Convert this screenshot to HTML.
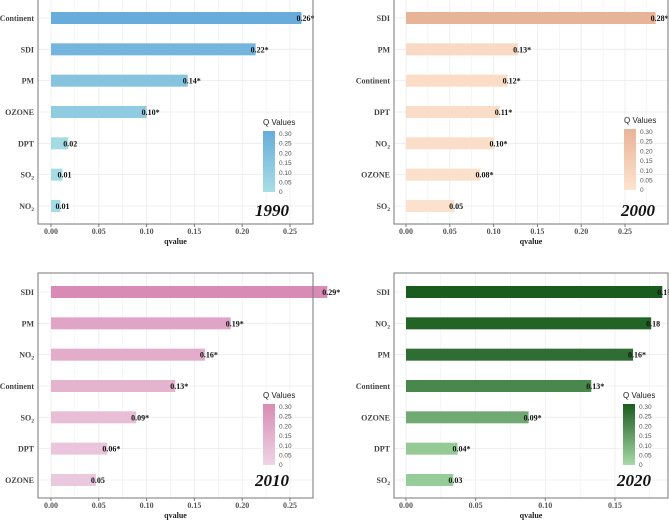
<!DOCTYPE html>
<html><head><meta charset="utf-8"><style>
html,body{margin:0;padding:0;background:#fff}
svg{display:block;font-family:"Liberation Serif",serif}
</style></head><body>
<svg id="c" width="669" height="520" viewBox="0 0 669 520" xmlns="http://www.w3.org/2000/svg"></svg>
<script>
// ----- data -----
const cats1990 = ["Continent","SDI","PM","OZONE","DPT","SO2","NO2"];
const vals1990 = [0.262,0.214,0.143,0.100,0.018,0.012,0.010];
const labs1990 = ["0.26*","0.22*","0.14*","0.10*","0.02","0.01","0.01"];
const cats2000 = ["SDI","PM","Continent","DPT","NO2","OZONE","SO2"];
const vals2000 = [0.285,0.128,0.116,0.107,0.101,0.085,0.055];
const labs2000 = ["0.28*","0.13*","0.12*","0.11*","0.10*","0.08*","0.05"];
const cats2010 = ["SDI","PM","NO2","Continent","SO2","DPT","OZONE"];
const vals2010 = [0.289,0.188,0.161,0.130,0.089,0.059,0.047];
const labs2010 = ["0.29*","0.19*","0.16*","0.13*","0.09*","0.06*","0.05"];
const cats2020 = ["SDI","NO2","PM","Continent","OZONE","DPT","SO2"];
const vals2020 = [0.184,0.176,0.163,0.133,0.088,0.037,0.034];
const labs2020 = ["0.19*","0.18","0.16*","0.13*","0.09*","0.04*","0.03"];
const ticks25 = [0,0.05,0.10,0.15,0.20,0.25];
const ticks15 = [0,0.05,0.10,0.15];
const legendTicks = [0.30,0.25,0.20,0.15,0.10,0.05,0];

const NS="http://www.w3.org/2000/svg";
const svg=document.getElementById('c');
function mk(tag,attrs,parent){const e=document.createElementNS(NS,tag);for(const k in attrs)e.setAttribute(k,attrs[k]);(parent||svg).appendChild(e);return e;}
function lerp(a,b,t){return a.map((v,i)=>Math.round(v+(b[i]-v)*t));}
function rgb(c){return `rgb(${c[0]},${c[1]},${c[2]})`;}
function catText(g,name,x,y,anchor,size,weight){
  const t=mk('text',{x:x,y:y,'text-anchor':anchor,'font-size':size,'font-weight':weight,fill:'#444'},g);
  const m=name.match(/^(NO|SO)2$/);
  if(m){t.textContent=m[1];const s=mk('tspan',{'font-size':size*0.7,dy:2},t);s.textContent='2';}
  else t.textContent=name;
  return t;
}
function panel(p){
  const g=mk('g',{});
  
  
  const L=p.left,T=p.top,R=p.right,B=p.top+225;
  const sx=v=>p.x0+v*p.scale;
  const step=31.33, y0=T+19;
  const sy=i=>y0+i*step;
  const vmax=Math.max(...p.vals);
  for(let v=0;sx(v)<R;v+=0.025){
    const gl=mk('line',{x1:sx(v),x2:sx(v),y1:T,y2:B,stroke:'#ececec','stroke-width':(Math.round(v/0.025)%2===0)?0.8:0.5},g);
    
  }
  p.cats.forEach((c,i)=>{
    const gl=mk('line',{x1:L,x2:R,y1:sy(i),y2:sy(i),stroke:'#ececec','stroke-width':0.8},g);
    
  });
  p.cats.forEach((c,i)=>{
    const v=p.vals[i];
    const t0=Math.pow(v/vmax,p.gamma);
    const col=rgb(lerp(p.c0,p.c1,t0));
    const r=mk('rect',{x:sx(0),y:sy(i)-6,width:sx(v)-sx(0),height:12,fill:col},g);
    
    
    const t=mk('text',{x:sx(v)-5,y:sy(i)+3,'font-size':8,'font-weight':'bold',fill:'#111'},g);
    t.textContent=p.labs[i];
    
    
    const ct=catText(g,c,L-4,sy(i)+3,'end',8,'bold');
    
    
  });
  const fr=mk('rect',{x:L,y:T,width:R-L,height:B-T,fill:'none',stroke:'#777','stroke-width':1},g);
  
  p.ticks.forEach(v=>{
    mk('line',{x1:sx(v),x2:sx(v),y1:B,y2:B+3,stroke:'#777'},g);
    const t=mk('text',{x:sx(v),y:B+10,'text-anchor':'middle','font-size':8,'font-weight':'bold',fill:'#555'},g);
    t.textContent=v.toFixed(2);
    
  });
  const xt=mk('text',{x:(L+R)/2,y:B+20,'text-anchor':'middle','font-size':8,'font-weight':'bold',fill:'#222'},g);
  xt.textContent='qvalue';
  
  const lx=p.lx, ly=p.ly;
  const id='grad'+p.year;
  const defs=mk('defs',{},g);
  const lg=mk('linearGradient',{id:id,x1:0,y1:1,x2:0,y2:0},defs);
  mk('stop',{offset:0,'stop-color':rgb(p.c0)},lg);
  mk('stop',{offset:1,'stop-color':rgb(p.c1)},lg);
  const lt=mk('text',{x:lx,y:ly-9,'font-family':'Liberation Sans, sans-serif','font-size':8,fill:'#222'},g);
  lt.textContent='Q Values';
  
  const cb=mk('rect',{x:lx,y:ly-3,width:12,height:61,fill:`url(#${id})`},g);
  
  legendTicks.forEach((v,i)=>{
    const t=mk('text',{x:lx+16,y:ly+i*9.7+2,'font-family':'Liberation Sans, sans-serif','font-size':6.5,fill:'#555'},g);
    t.textContent=v===0?'0':v.toFixed(2);
    
  });
  const yr=mk('text',{x:p.yx,y:p.yy,'font-size':17,'font-weight':'bold','font-style':'italic',fill:'#111'},g);
  yr.textContent=p.year;
  
}
panel({year:'1990',cats:cats1990,vals:vals1990,labs:labs1990,ticks:ticks25,left:38,top:-1,right:313,x0:51,scale:956,c0:[168,222,228],c1:[104,172,219],gamma:1,lx:263,ly:134,yx:255,yy:216});
panel({year:'2000',cats:cats2000,vals:vals2000,labs:labs2000,ticks:ticks25,left:394,top:-1,right:668,x0:406,scale:876,c0:[253,228,208],c1:[232,180,152],gamma:2,lx:624,ly:132,yx:621,yy:216});
panel({year:'2010',cats:cats2010,vals:vals2010,labs:labs2010,ticks:ticks25,left:38,top:273,right:313,x0:51,scale:956,c0:[238,212,229],c1:[216,140,181],gamma:1,lx:263,ly:407,yx:255,yy:486});
panel({year:'2020',cats:cats2020,vals:vals2020,labs:labs2020,ticks:ticks15,left:394,top:273,right:668,x0:406,scale:1393,c0:[166,218,166],c1:[26,92,30],gamma:1.3,lx:623,ly:407,yx:617,yy:486});
</script>
</body></html>
